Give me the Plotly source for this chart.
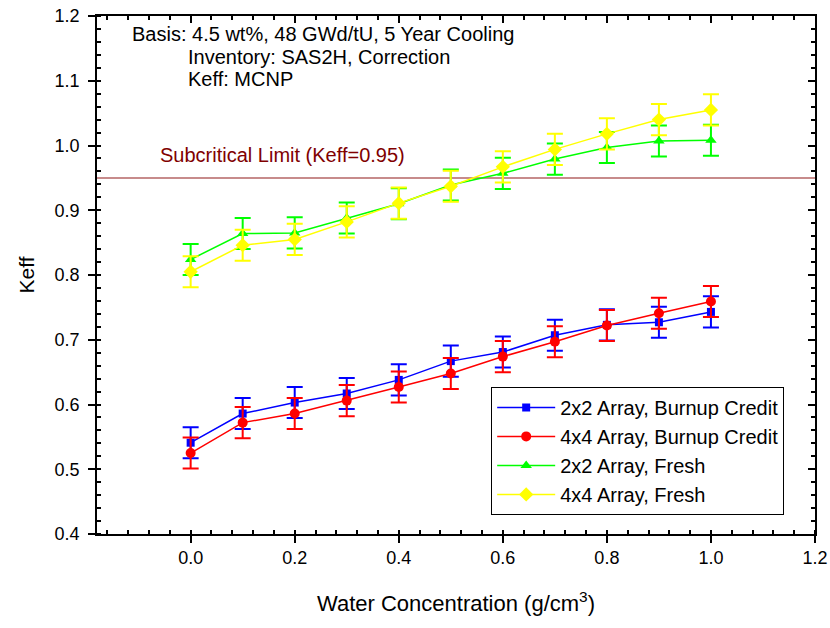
import plotly.graph_objects as go

water = [0.0, 0.1, 0.2, 0.3, 0.4, 0.5, 0.6, 0.7, 0.8, 0.9, 1.0]
keff_2x2_burnup = [0.541, 0.586, 0.603, 0.617, 0.638, 0.667, 0.681, 0.707, 0.723, 0.727, 0.743]
keff_4x4_burnup = [0.525, 0.572, 0.586, 0.606, 0.627, 0.648, 0.674, 0.697, 0.722, 0.741, 0.759]
keff_2x2_fresh = [0.824, 0.864, 0.865, 0.888, 0.910, 0.939, 0.957, 0.979, 0.997, 1.007, 1.008]
keff_4x4_fresh = [0.805, 0.846, 0.855, 0.882, 0.911, 0.937, 0.967, 0.994, 1.018, 1.040, 1.055]
err_2x2_burnup = [0.024] * 11
err_4x4_burnup = [0.024] * 11
err_2x2_fresh = [0.024] * 11
err_4x4_fresh = [0.024] * 11
subcritical_limit = 0.95

series = [
    ("2x2 Array, Burnup Credit", keff_2x2_burnup, err_2x2_burnup, "#0000FF", "square", 8),
    ("4x4 Array, Burnup Credit", keff_4x4_burnup, err_4x4_burnup, "#FF0000", "circle", 10),
    ("2x2 Array, Fresh", keff_2x2_fresh, err_2x2_fresh, "#00FF00", "triangle-up", 10),
    ("4x4 Array, Fresh", keff_4x4_fresh, err_4x4_fresh, "#FFFF00", "diamond", 11),
]

FONT = "Arial"
XR = [-0.18, 1.2]
YR = [0.4, 1.2]
XT = [0.0, 0.2, 0.4, 0.6, 0.8, 1.0, 1.2]
YT = [0.4, 0.5, 0.6, 0.7, 0.8, 0.9, 1.0, 1.1, 1.2]

fig = go.Figure()

fig.add_trace(go.Scatter(x=XR, y=[subcritical_limit, subcritical_limit], mode="lines",
                         line=dict(color="#B46464", width=1.5), showlegend=False, hoverinfo="skip"))

for name, y, e, c, sym, sz in series:
    fig.add_trace(go.Scatter(
        x=water, y=y, name=name, mode="lines+markers",
        line=dict(color=c, width=1.5),
        marker=dict(symbol=sym, size=sz, color=c, line=dict(width=0)),
        error_y=dict(type="data", array=e, visible=True, color=c, thickness=2, width=8),
    ))

fig.add_trace(go.Scatter(x=XR, y=YR, xaxis="x2", yaxis="y2", mode="markers",
                         marker=dict(opacity=0), showlegend=False, hoverinfo="skip"))

axis_common = dict(showgrid=False, zeroline=False, linecolor="black", linewidth=1.5,
                   tickcolor="black", tickwidth=1.5, automargin=False)

fig.update_layout(
    width=830, height=628,
    margin=dict(l=97, r=15, t=16, b=94),
    paper_bgcolor="white", plot_bgcolor="white",
    font=dict(family=FONT, size=18, color="black"),
    xaxis=dict(range=XR, tickvals=XT, ticktext=["%.1f" % v for v in XT],
               ticks="outside", ticklen=7, showline=True, mirror=True,
               minor=dict(dtick=0.04, tick0=0, ticks="inside", ticklen=4, tickcolor="black", tickwidth=1.5),
               title=dict(text="Water Concentration (g/cm<sup>3</sup>)", font=dict(size=22), standoff=28),
               tickfont=dict(size=18), **axis_common),
    yaxis=dict(range=YR, tickvals=YT, ticktext=["%.1f" % v for v in YT],
               ticks="outside", ticklen=7, showline=True, mirror=True, ticklabelstandoff=5,
               minor=dict(dtick=0.02, tick0=0, ticks="inside", ticklen=4, tickcolor="black", tickwidth=1.5),
               title=dict(text="Keff", font=dict(size=21), standoff=14),
               tickfont=dict(size=18), **axis_common),
    xaxis2=dict(range=XR, overlaying="x", side="top", tickvals=XT,
                showticklabels=False, ticks="inside", ticklen=7,
                minor=dict(dtick=0.04, tick0=0, ticks="inside", ticklen=4, tickcolor="black", tickwidth=1.5),
                **axis_common),
    yaxis2=dict(range=YR, overlaying="y", side="right", tickvals=YT,
                showticklabels=False, ticks="inside", ticklen=7,
                minor=dict(dtick=0.02, tick0=0, ticks="inside", ticklen=4, tickcolor="black", tickwidth=1.5),
                **axis_common),
    legend=dict(x=0.549, y=0.284, xanchor="left", yanchor="top",
                bordercolor="black", borderwidth=1, bgcolor="white",
                font=dict(size=20), tracegroupgap=0, itemwidth=58, entrywidth=222),
    showlegend=True,
)

notes = [
    ("Basis: 4.5 wt%, 48 GWd/tU, 5 Year Cooling", -0.1165, 1.172),
    ("Inventory: SAS2H, Correction", -0.0088, 1.137),
    ("Keff: MCNP", -0.0088, 1.103),
]
for t, x, y in notes:
    fig.add_annotation(text=t, x=x, y=y, xref="x", yref="y", xanchor="left", yanchor="middle",
                       showarrow=False, font=dict(size=20, color="black"))

fig.add_annotation(text="Subcritical Limit (Keff=0.95)", x=-0.062, y=0.985, xref="x", yref="y",
                   xanchor="left", yanchor="middle", showarrow=False,
                   font=dict(size=20, color="#800000"))

fig.write_html("out.html", config={"displayModeBar": False},
               post_script="document.body.style.margin='0';")
